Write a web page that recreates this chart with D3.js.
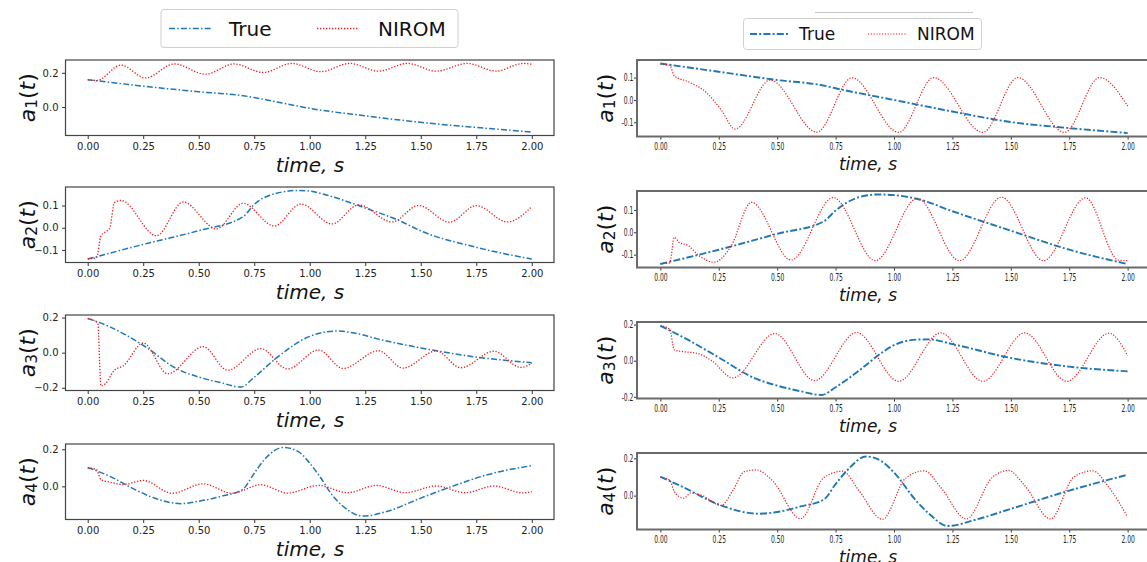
<!DOCTYPE html>
<meta charset='utf-8'>
<style>
	body { margin: 0; background: #fff; }
	svg { display: block; font-family: 'DejaVu Sans', sans-serif; }
</style>
<body>
	<div id='container'></div>
<script src='https://d3js.org/d3.v7.min.js'></script>
<script>
	// x ticks shared by every subplot
	const xTicks = [0, 0.25, 0.5, 0.75, 1.0, 1.25, 1.5, 1.75, 2.0];
	const seriesNames = ['True', 'NIROM'];

	// left figure, [t, a(t)]
	const trueL1 = [[0,0.16],[0.25,0.122],[0.5,0.089],[0.7,0.066],[0.85,0.03],[1.0,-0.008],[1.25,-0.052],[1.5,-0.09],[1.75,-0.12],[2.0,-0.147]];
	const niromL1 = [[0,0.16],[0.04,0.155],[0.15,0.245],[0.26,0.17],[0.39,0.252],[0.53,0.192],[0.66,0.252],[0.79,0.202],[0.92,0.255],[1.05,0.207],[1.18,0.255],[1.31,0.21],[1.44,0.255],[1.57,0.21],[1.71,0.255],[1.84,0.21],[1.96,0.255],[2.0,0.25]];
	const trueL2 = [[0,-0.141],[0.25,-0.075],[0.5,-0.013],[0.7,0.05],[0.75,0.105],[0.85,0.155],[0.95,0.168],[1.0,0.165],[1.1,0.14],[1.25,0.089],[1.41,0.029],[1.5,-0.014],[1.75,-0.088],[2.0,-0.141]];
	const niromL2 = [[0,-0.14],[0.04,-0.135],[0.06,-0.035],[0.09,-0.012],[0.1,0.0],[0.12,0.113],[0.15,0.123],[0.31,-0.036],[0.43,0.116],[0.58,-0.005],[0.7,0.11],[0.84,0.008],[0.96,0.107],[1.1,0.017],[1.22,0.103],[1.37,0.026],[1.49,0.1],[1.63,0.025],[1.75,0.1],[1.89,0.026],[2.0,0.095]];
	const trueL3 = [[0,0.195],[0.1,0.147],[0.25,0.042],[0.4,-0.091],[0.5,-0.139],[0.6,-0.171],[0.69,-0.196],[0.75,-0.14],[0.85,-0.03],[1.0,0.093],[1.12,0.123],[1.2,0.112],[1.3,0.08],[1.5,0.027],[1.75,-0.025],[2.0,-0.057]];
	const niromL3 = [[0,0.195],[0.045,0.17],[0.06,-0.19],[0.08,-0.177],[0.12,-0.1],[0.16,-0.075],[0.25,0.055],[0.36,-0.12],[0.52,0.034],[0.63,-0.1],[0.78,0.023],[0.9,-0.093],[1.04,0.015],[1.15,-0.09],[1.31,0.011],[1.42,-0.088],[1.57,0.01],[1.68,-0.086],[1.83,0.008],[1.95,-0.084],[2.0,-0.061]];
	const trueL4 = [[0,0.102],[0.1,0.054],[0.2,-0.009],[0.3,-0.063],[0.42,-0.093],[0.5,-0.08],[0.6,-0.054],[0.7,-0.014],[0.75,0.071],[0.8,0.15],[0.88,0.21],[0.95,0.186],[1.0,0.125],[1.05,0.045],[1.1,-0.045],[1.15,-0.107],[1.24,-0.16],[1.35,-0.134],[1.5,-0.063],[1.65,0.004],[1.8,0.063],[2.0,0.112]];
	const niromL4 = [[0,0.1],[0.04,0.09],[0.06,0.036],[0.1,0.023],[0.16,0.01],[0.25,0.032],[0.38,-0.037],[0.52,0.014],[0.65,-0.037],[0.78,0.009],[0.9,-0.036],[1.04,0.005],[1.17,-0.034],[1.3,0.005],[1.43,-0.034],[1.57,0.002],[1.7,-0.034],[1.83,0.002],[1.96,-0.035],[2.0,-0.028]];

	// right figure, [t, a(t)]
	const trueR1 = [[0,0.163],[0.25,0.126],[0.5,0.089],[0.7,0.064],[0.75,0.052],[1.0,0.0],[1.25,-0.052],[1.5,-0.099],[1.75,-0.126],[2.0,-0.148]];
	const niromR1 = [[0,0.16],[0.04,0.155],[0.06,0.107],[0.12,0.081],[0.2,0.03],[0.26,-0.044],[0.32,-0.13],[0.47,0.089],[0.67,-0.144],[0.82,0.099],[1.02,-0.145],[1.17,0.1],[1.38,-0.145],[1.53,0.1],[1.73,-0.145],[1.88,0.1],[2.0,-0.027]];
	const trueR2 = [[0,-0.142],[0.25,-0.078],[0.5,-0.007],[0.7,0.049],[0.75,0.097],[0.85,0.157],[0.93,0.169],[1.0,0.166],[1.1,0.149],[1.25,0.094],[1.5,0.007],[1.75,-0.078],[2.0,-0.142]];
	const niromR2 = [[0,-0.14],[0.04,-0.137],[0.06,-0.022],[0.08,-0.045],[0.12,-0.06],[0.16,-0.1],[0.23,-0.134],[0.3,-0.067],[0.39,0.134],[0.56,-0.124],[0.74,0.155],[0.92,-0.127],[1.1,0.152],[1.28,-0.127],[1.46,0.157],[1.64,-0.127],[1.82,0.154],[1.96,-0.124],[2.0,-0.127]];
	const trueR3 = [[0,0.193],[0.1,0.128],[0.25,0.018],[0.4,-0.095],[0.5,-0.138],[0.6,-0.169],[0.69,-0.19],[0.75,-0.147],[0.85,-0.055],[0.95,0.046],[1.0,0.086],[1.1,0.117],[1.15,0.118],[1.25,0.092],[1.5,0.015],[1.75,-0.033],[2.0,-0.059]];
	const niromR3 = [[0,0.195],[0.04,0.174],[0.06,0.059],[0.1,0.05],[0.16,0.04],[0.22,0.0],[0.31,-0.095],[0.49,0.15],[0.66,-0.11],[0.84,0.156],[1.02,-0.114],[1.2,0.154],[1.38,-0.114],[1.56,0.154],[1.74,-0.114],[1.92,0.152],[2.0,0.028]];
	const trueR4 = [[0,0.101],[0.1,0.044],[0.25,-0.048],[0.42,-0.097],[0.5,-0.088],[0.6,-0.058],[0.7,-0.021],[0.75,0.062],[0.8,0.136],[0.88,0.21],[0.95,0.182],[1.0,0.124],[1.1,-0.035],[1.15,-0.097],[1.23,-0.163],[1.35,-0.129],[1.5,-0.071],[1.75,0.027],[2.0,0.112]];
	const niromR4 = [[0,0.1],[0.04,0.083],[0.06,0.021],[0.1,-0.014],[0.13,0.014],[0.18,0.0],[0.26,-0.053],[0.31,0.027],[0.36,0.129],[0.41,0.138],[0.48,0.08],[0.6,-0.124],[0.7,0.097],[0.78,0.131],[0.85,0.027],[0.95,-0.127],[1.05,0.094],[1.13,0.133],[1.2,0.044],[1.31,-0.125],[1.42,0.097],[1.49,0.135],[1.56,0.053],[1.67,-0.125],[1.77,0.1],[1.85,0.133],[1.92,0.044],[2.0,-0.115]];

	const yTicksL = [[0, 0.2], [-0.1, 0, 0.1], [-0.2, 0, 0.2], [0, 0.2]];
	const yTicksR = [[-0.1, 0, 0.1], [-0.1, 0, 0.1], [-0.2, 0, 0.2], [0, 0.2]];

	const W = 1147, H = 562;
	const blue = '#1f77b4', red = '#f01818';

	const figs = [
		{
			x0: 65.5, x1: 554, tops: [60, 187, 315, 444], h: 75.5,
			trueData: [trueL1, trueL2, trueL3, trueL4],
			niromData: [niromL1, niromL2, niromL3, niromL4],
			yTicks: yTicksL,
			frame: '#444', frameW: 1.2, tick: 3.5, tickFont: 10, squeeze: 1,
			minus: '\u2212', yLabelX: 27, yLabelSize: 22, xLabelX: 310, xLabelSize: 20, xLabelDy: 29,
			trueW: 1.5, trueDash: '6,2.2,1.5,2.2', niromW: 1.3, niromDash: '1.3,1.7',
			legend: { x: 161, y: 9.5, w: 297, h: 38, font: 20, s1: 169, s2: 317, sw: 42, t1: 229, t2: 378 },
		},
		{
			x0: 637, x1: 1151, tops: [60, 191, 322, 453], h: 76.5,
			trueData: [trueR1, trueR2, trueR3, trueR4],
			niromData: [niromR1, niromR2, niromR3, niromR4],
			yTicks: yTicksR,
			frame: '#6a6a6a', frameW: 2, tick: 3, tickFont: 10, squeeze: 0.6,
			minus: '-', yLabelX: 605, yLabelSize: 22, xLabelX: 868, xLabelSize: 17, xLabelDy: 28,
			trueW: 1.9, trueDash: '7,2.2,2,2.2', niromW: 1.2, niromDash: '1.2,1.6',
			legend: { x: 743.5, y: 18.5, w: 238, h: 31, font: 17, s1: 750, s2: 868, sw: 38, t1: 799, t2: 917 },
		},
	];

	const svg = d3.select('#container')
		.append('svg')
		.attr('width', W)
		.attr('height', H);

	figs.forEach(fig => {
		const x = d3.scaleLinear().domain([-0.1, 2.1]).range([fig.x0, fig.x1]);

		fig.tops.forEach((top, i) => {
			const both = fig.trueData[i].concat(fig.niromData[i]);
			const ext = d3.extent(both, d => d[1]);
			const pad = (ext[1] - ext[0]) * 0.05;
			const y = d3.scaleLinear()
				.domain([ext[0] - pad, ext[1] + pad])
				.range([top + fig.h, top]);

			const g = svg.append('g');

			const clipId = `clip-${fig.x0}-${i}`;
			g.append('clipPath').attr('id', clipId)
				.append('rect')
				.attr('x', fig.x0).attr('y', top)
				.attr('width', fig.x1 - fig.x0).attr('height', fig.h);

			const line = d3.line()
				.x(d => x(d[0]))
				.y(d => y(d[1]))
				.curve(d3.curveMonotoneX);

			g.append('path')
				.datum(fig.trueData[i])
				.attr('clip-path', `url(#${clipId})`)
				.attr('d', line)
				.attr('fill', 'none')
				.attr('stroke', blue)
				.attr('stroke-width', fig.trueW)
				.attr('stroke-dasharray', fig.trueDash);

			g.append('path')
				.datum(fig.niromData[i])
				.attr('clip-path', `url(#${clipId})`)
				.attr('d', line)
				.attr('fill', 'none')
				.attr('stroke', red)
				.attr('stroke-width', fig.niromW)
				.attr('stroke-dasharray', fig.niromDash);

			// axes
			const xAxis = d3.axisBottom(x)
				.tickValues(xTicks)
				.tickFormat(d3.format('.2f'))
				.tickSize(fig.tick).tickPadding(fig.tick)
				.tickSizeOuter(0);
			const yAxis = d3.axisLeft(y)
				.tickValues(fig.yTicks[i])
				.tickFormat(d => d3.format('.1f')(d).replace('\u2212', fig.minus))
				.tickSize(fig.tick).tickPadding(fig.tick)
				.tickSizeOuter(0);

			const xa = g.append('g')
				.attr('transform', `translate(0, ${top + fig.h})`)
				.call(xAxis);
			const ya = g.append('g')
				.attr('transform', `translate(${fig.x0}, 0)`)
				.call(yAxis);

			[xa, ya].forEach(a => {
				a.select('.domain').remove();
				a.selectAll('line').attr('stroke', '#333');
				a.selectAll('text')
					.attr('fill', '#222')
					.style('font-size', fig.tickFont + 'px')
					.style('font-family', "'DejaVu Sans', sans-serif")
					.attr('transform', `scale(${fig.squeeze}, 1)`);
			});

			g.append('rect')
				.attr('x', fig.x0).attr('y', top)
				.attr('width', fig.x1 - fig.x0).attr('height', fig.h)
				.attr('fill', 'none')
				.attr('stroke', fig.frame)
				.attr('stroke-width', fig.frameW);

			// labels
			const yl = g.append('text')
				.attr('transform', `translate(${fig.yLabelX}, ${top + fig.h / 2}) rotate(-90)`)
				.attr('text-anchor', 'middle')
				.attr('dominant-baseline', 'central')
				.style('font-size', fig.yLabelSize + 'px')
				.attr('fill', '#111');
			yl.append('tspan').text('a').style('font-style', 'italic');
			yl.append('tspan').text(i + 1).style('font-size', '70%').attr('dy', 5);
			yl.append('tspan').text('(').attr('dy', -5);
			yl.append('tspan').text('t').style('font-style', 'italic');
			yl.append('tspan').text(')');

			g.append('text')
				.attr('x', fig.xLabelX)
				.attr('y', top + fig.h + fig.xLabelDy)
				.attr('dy', '0.35em')
				.attr('text-anchor', 'middle')
				.style('font-size', fig.xLabelSize + 'px')
				.style('font-style', 'italic')
				.attr('fill', '#111')
				.text('time, s');
		});

		// legend
		const L = fig.legend;
		const lg = svg.append('g');
		lg.append('rect')
			.attr('x', L.x).attr('y', L.y)
			.attr('width', L.w).attr('height', L.h)
			.attr('rx', 3)
			.attr('fill', '#fff')
			.attr('stroke', '#d0d0d0');
		const cy = L.y + L.h / 2;
		const items = [
			{ name: seriesNames[0], color: blue, w: fig.trueW, dash: fig.trueDash, s: L.s1, t: L.t1 },
			{ name: seriesNames[1], color: red, w: fig.niromW, dash: fig.niromDash, s: L.s2, t: L.t2 },
		];
		items.forEach(it => {
			lg.append('line')
				.attr('x1', it.s).attr('x2', it.s + L.sw)
				.attr('y1', cy).attr('y2', cy)
				.attr('stroke', it.color)
				.attr('stroke-width', it.w)
				.attr('stroke-dasharray', it.dash);
			lg.append('text')
				.attr('x', it.t).attr('y', cy)
				.attr('dominant-baseline', 'central')
				.style('font-size', L.font + 'px')
				.attr('fill', '#111')
				.text(it.name);
		});
	});

	// faint leftover rule above the right legend
	svg.append('line')
		.attr('x1', 815).attr('x2', 973)
		.attr('y1', 12.5).attr('y2', 12.5)
		.attr('stroke', '#c8c8c8');
</script>
</body>
